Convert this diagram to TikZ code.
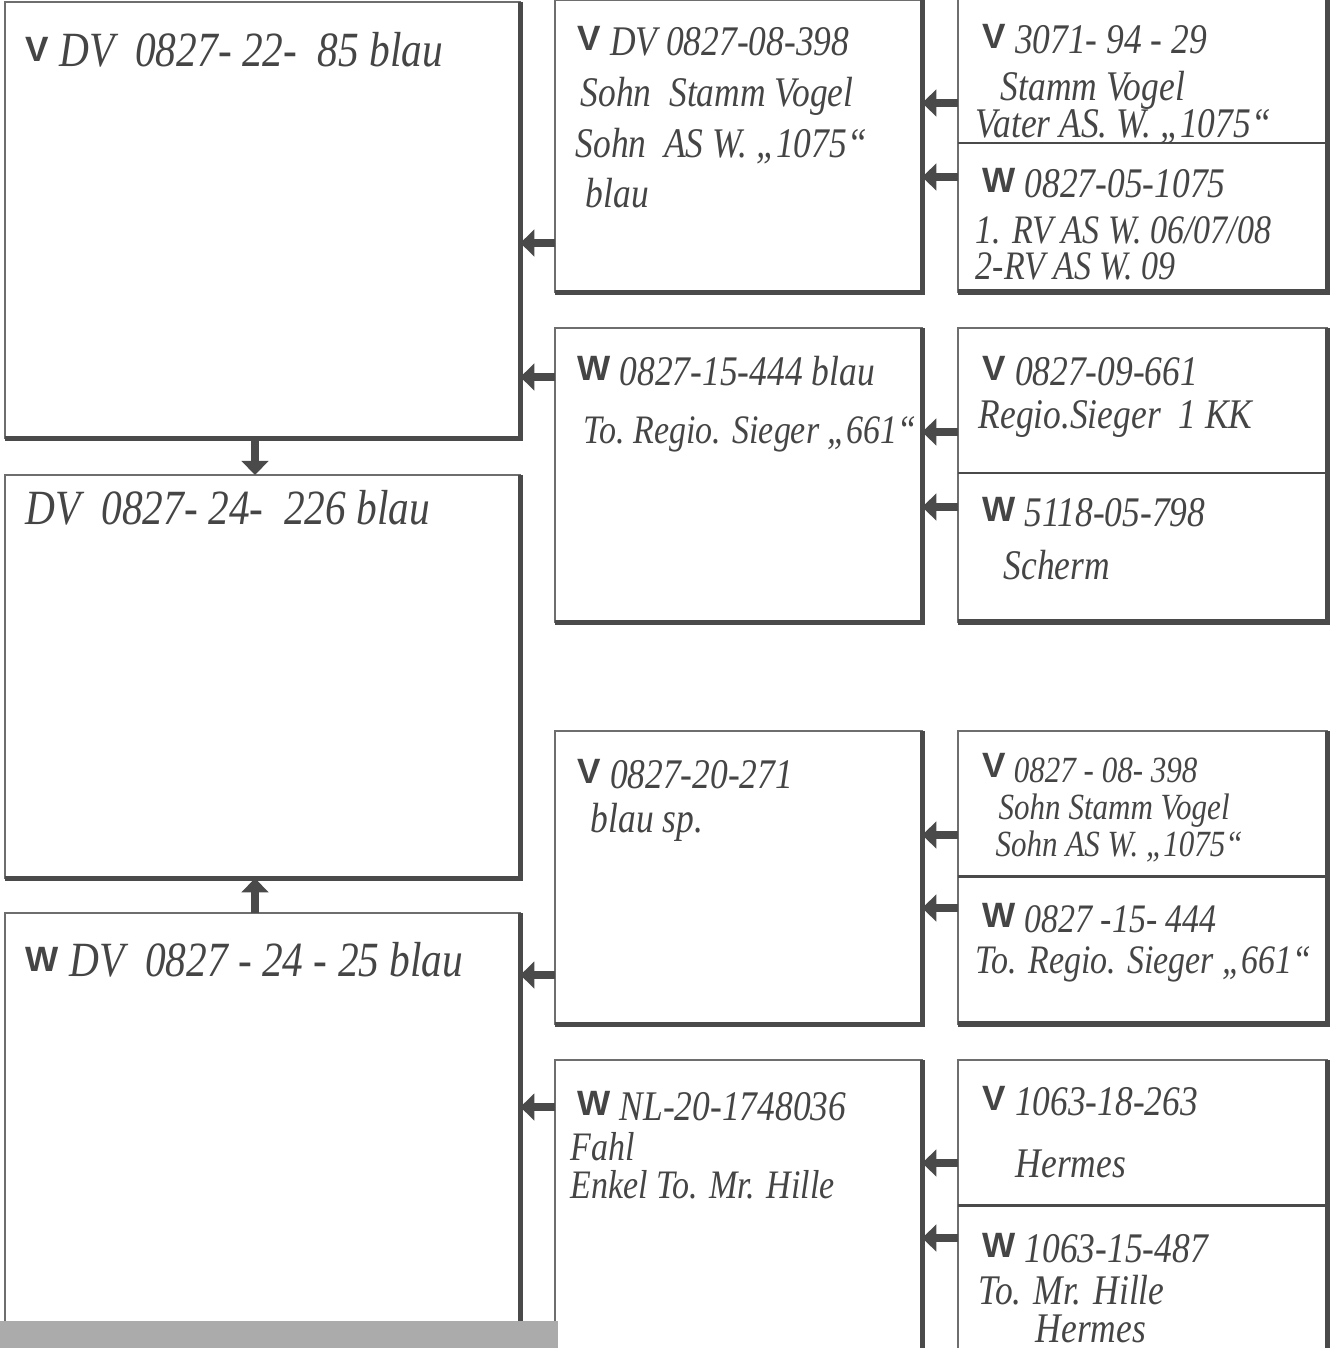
\documentclass[tikz,border=0pt]{standalone}
\usepackage{fontspec}
\setmainfont{Liberation Serif}[FakeStretch=0.84]
\newfontfamily\printfont{Liberation Sans}
\usetikzlibrary{arrows.meta}
\definecolor{ink}{HTML}{454545}
\definecolor{frame}{HTML}{6E6E6E}
\definecolor{shade}{HTML}{4A4A4A}
\definecolor{scan}{HTML}{ABABAB}
\newcommand{\sexmark}[1]{{\printfont\bfseries\upshape\fontsize{10}{11}\selectfont\raisebox{1.2pt}{#1}}}
\begin{document}
\begin{tikzpicture}[x=0.01cm,y=-0.01cm,
  box/.style={draw=frame, line width=0.6pt, fill=white, anchor=north west, inner sep=0pt, outer sep=0pt},
  shadowline/.style={draw=shade, line width=1.5pt},
  divline/.style={draw=shade, line width=0.8pt},
  arr/.style={draw=shade, line width=2.3pt, -{Triangle[length=4pt,width=7.5pt]}},
  hwA/.style={font=\itshape\fontsize{14}{16}\selectfont, text=ink, inner sep=0pt, anchor=base west},
  hw/.style={font=\itshape\fontsize{12}{14}\selectfont, text=ink, inner sep=0pt, anchor=base west},
  hwt/.style={font=\itshape\fontsize{12}{14}\selectfont, text=ink, inner sep=0pt, anchor=base west},
  hws/.style={font=\itshape\fontsize{11.5}{13}\selectfont, text=ink, inner sep=0pt, anchor=base west},
  hwj/.style={font=\itshape\fontsize{10.5}{12}\selectfont, text=ink, inner sep=0pt, anchor=base west},
]
\clip (0,0) rectangle (1330,1348);
\fill[white] (0,0) rectangle (1330,1348);

% generation 1
\node[box, minimum width=5.15cm, minimum height=4.36cm] (A) at (5,2) {};
\node[box, minimum width=5.15cm, minimum height=4.03cm] (B) at (5,475) {};
\node[box, minimum width=5.15cm, minimum height=4.12cm] (C) at (5,913) {};
% generation 2
\node[box, minimum width=3.67cm, minimum height=2.92cm] (D) at (555,0) {};
\node[box, minimum width=3.67cm, minimum height=2.94cm] (E) at (555,328) {};
\node[box, minimum width=3.67cm, minimum height=2.93cm] (F) at (555,731) {};
\node[box, minimum width=3.67cm, minimum height=3.20cm] (G) at (555,1060) {};
% generation 3
\node[box, minimum width=3.69cm, minimum height=1.46cm] (H1) at (958,-3) {};
\node[box, minimum width=3.69cm, minimum height=1.49cm] (H2) at (958,143) {};
\node[box, minimum width=3.69cm, minimum height=1.45cm] (I1) at (958,328) {};
\node[box, minimum width=3.69cm, minimum height=1.49cm] (I2) at (958,473) {};
\node[box, minimum width=3.69cm, minimum height=1.45cm] (J1) at (958,731) {};
\node[box, minimum width=3.69cm, minimum height=1.48cm] (J2) at (958,876) {};
\node[box, minimum width=3.69cm, minimum height=1.45cm] (K1) at (958,1060) {};
\node[box, minimum width=3.69cm, minimum height=2.00cm] (K2) at (958,1205) {};

% heavy right/bottom edges
\foreach \b in {A,B,C,D,E,F,G}
  \draw[shadowline] (\b.north east) -- (\b.south east) -- (\b.south west);
\foreach \t/\u in {H1/H2,I1/I2,J1/J2,K1/K2}{
  \draw[shadowline] (\t.north east) -- (\u.south east) -- (\u.south west);
  \draw[divline] (\t.south west) -- (\t.south east);
}

% connectors
\coordinate (ab) at (255,0);
\draw[arr] (A.south -| ab) -- (B.north -| ab);
\draw[arr] (C.north -| ab) -- (B.south -| ab);

\coordinate (d1) at (555,243);
\coordinate (e1) at (555,377);
\coordinate (f1) at (555,975);
\coordinate (g1) at (555,1107);
\draw[arr] (d1) -- (d1 -| A.east);
\draw[arr] (e1) -- (e1 -| A.east);
\draw[arr] (f1) -- (f1 -| C.east);
\draw[arr] (g1) -- (g1 -| C.east);

\coordinate (h1) at (958,103);
\coordinate (h2) at (958,177);
\coordinate (i1) at (958,432);
\coordinate (i2) at (958,507);
\coordinate (j1) at (958,835);
\coordinate (j2) at (958,908);
\coordinate (k1) at (958,1163);
\coordinate (k2) at (958,1238);
\draw[arr] (h1) -- (h1 -| D.east);
\draw[arr] (h2) -- (h2 -| D.east);
\draw[arr] (i1) -- (i1 -| E.east);
\draw[arr] (i2) -- (i2 -| E.east);
\draw[arr] (j1) -- (j1 -| F.east);
\draw[arr] (j2) -- (j2 -| F.east);
\draw[arr] (k1) -- (k1 -| G.east);
\draw[arr] (k2) -- (k2 -| G.east);

% texts generation 1
\node[hwA] (tA) at (25,66) {\sexmark{V} DV\ \ 0827- 22-\ \ 85 blau};
\node[hwA] (tB) at (25,524) {DV\ \ 0827- 24- \ 226 blau};
\node[hwA] (tC) at (25,976) {\sexmark{W} DV\ \ 0827 - 24 - 25 blau};

% D
\node[hw] (tD1) at (577,55) {\sexmark{V} DV 0827-08-398};
\node[hw] (tD2) at (580,106) {Sohn\ \ Stamm Vogel};
\node[hw] (tD3) at (575,157) {Sohn\ \ AS W. „1075“};
\node[hw] (tD5) at (585,207) {blau};
% H
\node[hwt] (tH1) at (982,53) {\sexmark{V} 3071-\ 94\ -\ 29};
\node[hwt] (tH2) at (1000,100) {Stamm Vogel};
\node[hwt] (tH3) at (975,137) {Vater AS. W. „1075“};
\node[hwt] (tH4) at (982,197) {\sexmark{W} 0827-05-1075};
\node[hws] (tH5) at (975,243) {1. RV AS W. 06/07/08};
\node[hws] (tH6) at (975,279) {2-RV AS W. 09};
% E
\node[hw] (tE1) at (577,385) {\sexmark{W} 0827-15-444 blau};
\node[hws] (tE2) at (583,443) {To.\ Regio. Sieger „661“};
% I
\node[hwt] (tI1) at (982,385) {\sexmark{V} 0827-09-661};
\node[hwt] (tI2) at (978,428) {Regio.Sieger\ \ 1 KK};
\node[hwt] (tI3) at (982,526) {\sexmark{W} 5118-05-798};
\node[hwt] (tI4) at (1003,579) {Scherm};
% F
\node[hw] (tF1) at (577,788) {\sexmark{V} 0827-20-271};
\node[hw] (tF2) at (590,832) {blau sp.};
% J
\node[hwj] (tJ1) at (982,782) {\sexmark{V} 0827 - 08- 398};
\node[hwj] (tJ2) at (998,819) {Sohn Stamm Vogel};
\node[hwj] (tJ3) at (995,856) {Sohn AS W. „1075“};
\node[hws] (tJ5) at (982,932) {\sexmark{W} 0827 -15- 444};
\node[hws] (tJ6) at (975,973) {To. Regio. Sieger „661“};
% G
\node[hw] (tG1) at (577,1120) {\sexmark{W} NL-20-1748036};
\node[hws] (tG2) at (570,1160) {Fahl};
\node[hws] (tG3) at (570,1198) {Enkel To. Mr. Hille};
% K
\node[hwt] (tK1) at (982,1115) {\sexmark{V} 1063-18-263};
\node[hwt] (tK2) at (1015,1177) {Hermes};
\node[hwt] (tK3) at (982,1262) {\sexmark{W} 1063-15-487};
\node[hwt] (tK4) at (978,1304) {To. Mr. Hille};
\node[hwt] (tK5) at (1035,1342) {Hermes};

% scanner band
\fill[scan] (0,1321) rectangle (558,1348);
\end{tikzpicture}
\end{document}
